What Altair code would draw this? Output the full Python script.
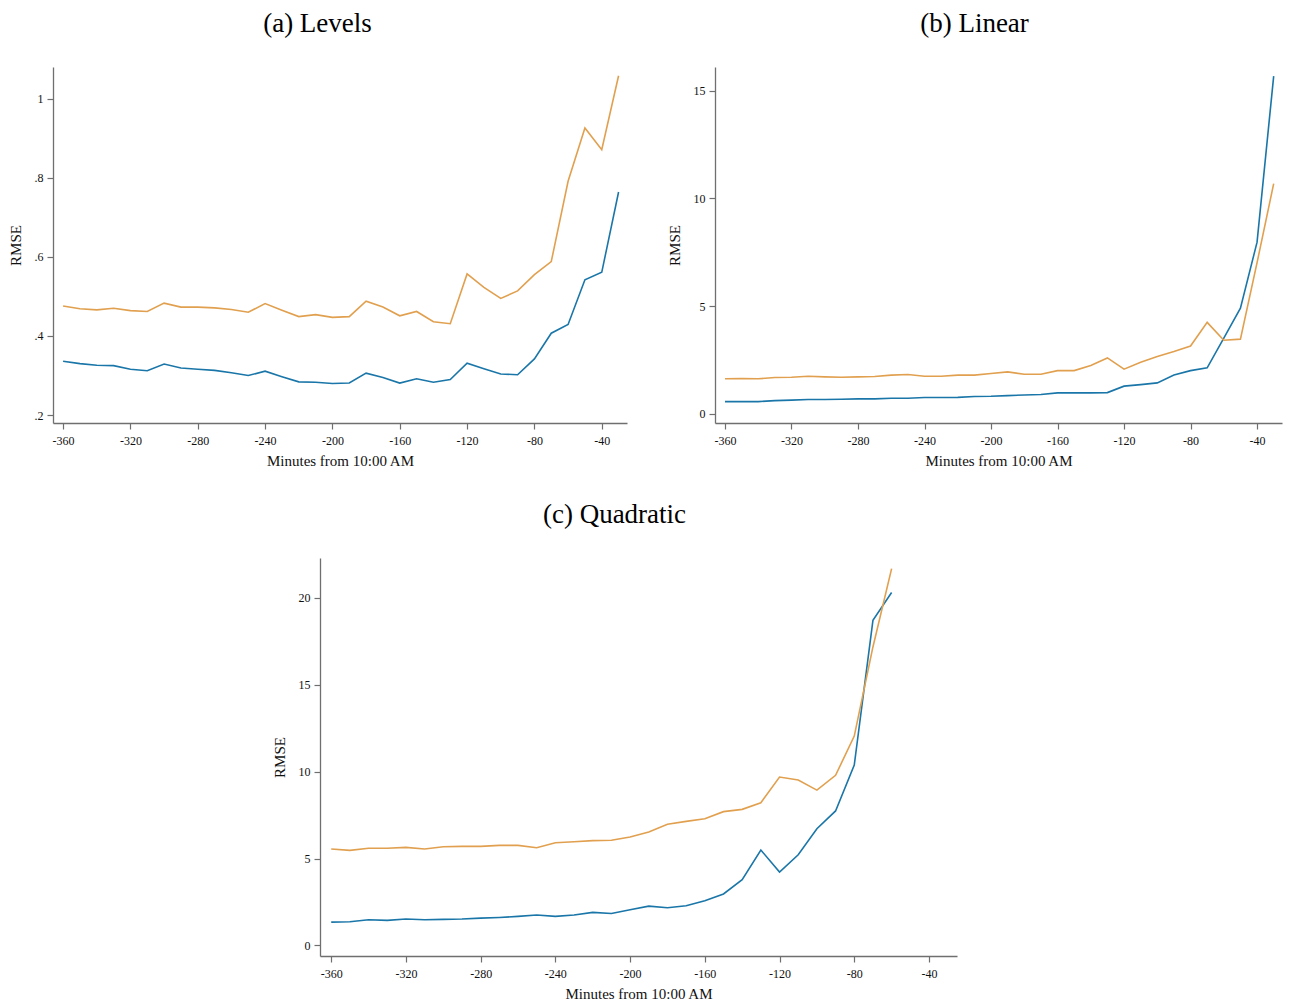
import altair as alt
import pandas as pd

minutes_ab = list(range(-360, -29, 10))   # 34 points
minutes_c = list(range(-360, -59, 10))    # 31 points

levels_blue = [0.336, 0.330, 0.326, 0.325, 0.316, 0.312, 0.329, 0.319, 0.316, 0.313,
               0.307, 0.300, 0.311, 0.297, 0.284, 0.283, 0.280, 0.281, 0.306, 0.295,
               0.281, 0.292, 0.283, 0.290, 0.331, 0.317, 0.304, 0.302, 0.342, 0.407,
               0.429, 0.542, 0.561, 0.764]
levels_orange = [0.476, 0.469, 0.466, 0.470, 0.464, 0.462, 0.483, 0.473, 0.473, 0.471,
                 0.467, 0.460, 0.482, 0.465, 0.449, 0.454, 0.447, 0.449, 0.488, 0.473,
                 0.451, 0.462, 0.436, 0.431, 0.557, 0.523, 0.495, 0.514, 0.555, 0.588,
                 0.791, 0.926, 0.871, 1.058]

linear_blue = [0.57, 0.57, 0.57, 0.62, 0.64, 0.67, 0.67, 0.68, 0.70, 0.70,
               0.73, 0.73, 0.76, 0.76, 0.77, 0.81, 0.82, 0.85, 0.88, 0.90,
               0.98, 0.98, 0.98, 0.99, 1.29, 1.36, 1.44, 1.81, 2.01, 2.14,
               3.52, 4.91, 7.97, 15.68]
linear_orange = [1.63, 1.64, 1.63, 1.69, 1.70, 1.75, 1.72, 1.70, 1.72, 1.74,
                 1.80, 1.83, 1.75, 1.75, 1.80, 1.80, 1.88, 1.95, 1.84, 1.84,
                 2.01, 2.01, 2.25, 2.60, 2.08, 2.40, 2.67, 2.90, 3.15, 4.25,
                 3.42, 3.47, 7.02, 10.69]

quad_blue = [1.34, 1.36, 1.48, 1.44, 1.52, 1.48, 1.50, 1.52, 1.57, 1.61,
             1.67, 1.75, 1.67, 1.75, 1.90, 1.84, 2.05, 2.26, 2.17, 2.28,
             2.57, 2.96, 3.78, 5.49, 4.22, 5.22, 6.72, 7.74, 10.38, 18.71,
             20.31]
quad_orange = [5.55, 5.47, 5.59, 5.59, 5.64, 5.55, 5.68, 5.70, 5.70, 5.76,
               5.76, 5.62, 5.91, 5.97, 6.03, 6.05, 6.24, 6.53, 6.97, 7.14,
               7.29, 7.70, 7.83, 8.21, 9.69, 9.52, 8.94, 9.79, 12.05, 17.18,
               21.69]

x_ticks = [-360, -320, -280, -240, -200, -160, -120, -80, -40]
series_names = ["Series 1", "Series 2"]
series_colors = ["#1a76a8", "#e1a04f"]

SERIF = "Liberation Serif"


def long_df(x, blue, orange):
    rows = []
    for xi, v in zip(x, blue):
        rows.append({"minutes": xi, "rmse": v, "series": series_names[0]})
    for xi, v in zip(x, orange):
        rows.append({"minutes": xi, "rmse": v, "series": series_names[1]})
    return pd.DataFrame(rows)


def panel(df, title, ydomain, yticks, ylabel_expr, width, height):
    return alt.Chart(df).mark_line(strokeWidth=1.6).encode(
        x=alt.X("minutes:Q",
                scale=alt.Scale(domain=[-366, -25], nice=False, zero=False),
                axis=alt.Axis(values=x_ticks, title="Minutes from 10:00 AM",
                              labelExpr="'' + datum.value")),
        y=alt.Y("rmse:Q",
                scale=alt.Scale(domain=ydomain, nice=False, zero=False),
                axis=alt.Axis(values=yticks, title="RMSE", labelExpr=ylabel_expr)),
        color=alt.Color("series:N",
                        scale=alt.Scale(domain=series_names, range=series_colors),
                        legend=None),
    ).properties(
        width=width, height=height,
        title=alt.TitleParams(title, fontSize=27, font=SERIF, fontWeight="normal",
                              anchor="middle", frame="bounds", offset=29, color="#000"),
    )


lev_expr = "datum.value >= 1 ? '' + datum.value : replace(format(datum.value, '.1f'), '0.', '.')"
num_expr = "'' + datum.value"

a = panel(long_df(minutes_ab, levels_blue, levels_orange), "(a) Levels",
          [0.18, 1.08], [0.2, 0.4, 0.6, 0.8, 1.0], lev_expr, 574, 356)
b = panel(long_df(minutes_ab, linear_blue, linear_orange), "(b) Linear",
          [-0.42, 16.1], [0, 5, 10, 15], num_expr, 567, 356)
c = panel(long_df(minutes_c, quad_blue, quad_orange), "(c) Quadratic",
          [-0.61, 22.3], [0, 5, 10, 15, 20], num_expr, 637, 398)

spacer = alt.Chart(pd.DataFrame({"v": [0]})).mark_point(opacity=0).encode(
    x=alt.value(0), y=alt.value(0)
).properties(width=267, height=398)

top = alt.hconcat(a, b, spacing=88, bounds="flush")
bottom = alt.hconcat(spacer, c, spacing=0, bounds="flush")

chart = alt.vconcat(top, bottom, spacing=33).properties(
    padding={"left": 0, "top": 2, "right": 5, "bottom": 2}
).configure_view(stroke=None).configure_axis(
    grid=False,
    domainColor="#6f6f6f", domainWidth=1.3,
    tickColor="#6f6f6f", tickWidth=1.2, tickSize=6,
    labelFont=SERIF, labelFontSize=12, labelColor="#111",
    titleFont=SERIF, titleFontSize=15, titleFontWeight="normal", titleColor="#111",
    labelPadding=4,
).configure_axisY(
    labelAngle=0, titlePadding=11
).configure_axisX(
    titlePadding=7, labelPadding=6
)

chart.save("out.html", embed_options={"renderer": "svg", "actions": False})
